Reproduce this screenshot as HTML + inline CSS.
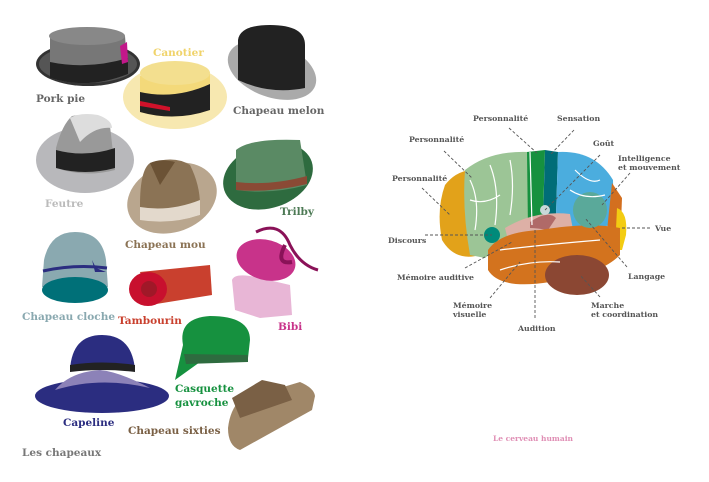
<!DOCTYPE html>
<html><head><meta charset="utf-8"><style>
html,body{margin:0;padding:0;background:#fff;}
svg{display:block;}
.h{font-family:"DejaVu Serif","Liberation Serif",serif;font-weight:bold;font-size:10.5px;}
.b{font-family:"DejaVu Serif","Liberation Serif",serif;font-weight:bold;font-size:7.8px;fill:#555;}
.d{stroke:#555;stroke-width:0.9;stroke-dasharray:3,2;fill:none;}
.w{stroke:#fff;stroke-width:1.2;fill:none;}
</style></head><body>
<svg width="709" height="482" viewBox="0 0 709 482" xmlns="http://www.w3.org/2000/svg">
<!-- Pork pie -->
<ellipse cx="88" cy="64" rx="52" ry="22" fill="#333"/>
<ellipse cx="88" cy="64" rx="49" ry="19" fill="#555"/>
<path d="M50 38 L50 78 Q88 90 128 74 L125 36 Z" fill="#777"/>
<ellipse cx="87" cy="36" rx="38" ry="9" fill="#888"/>
<path d="M50 62 Q88 70 128 58 L128 74 Q88 90 50 78 Z" fill="#222"/>
<path d="M120 46 L127 42 L128 62 L122 64 Z" fill="#c2188a"/>
<text class="h" x="36" y="102" fill="#666">Pork pie</text>
<!-- Canotier -->
<text class="h" x="153" y="56" fill="#f0d36a">Canotier</text>
<ellipse cx="175" cy="97" rx="52" ry="32" fill="#f7e8b0"/>
<path d="M140 76 L140 112 Q175 122 210 110 L210 74 Z" fill="#f3d97a"/>
<ellipse cx="175" cy="73" rx="35" ry="12" fill="#f3df8f"/>
<path d="M140 92 Q175 100 210 84 L210 110 Q175 122 140 112 Z" fill="#222"/>
<path d="M140 101 L170 107 L170 111 L140 106 Z" fill="#d0122a"/>
<!-- Chapeau melon -->
<ellipse cx="272" cy="70" rx="46" ry="27" fill="#aaa" transform="rotate(20 272 70)"/>
<path d="M238 40 Q240 25 270 25 Q305 25 305 45 L305 88 Q270 95 238 80 Z" fill="#222"/>
<text class="h" x="233" y="114" fill="#666">Chapeau melon</text>
<!-- Feutre -->
<ellipse cx="85" cy="160" rx="49" ry="33" fill="#b8b8bb"/>
<path d="M56 148 Q62 125 72 116 Q90 112 110 126 L115 170 Q85 178 56 168 Z" fill="#999"/>
<path d="M70 118 Q80 112 98 115 Q112 120 112 128 Q95 126 80 142 Z" fill="#ddd"/>
<path d="M56 150 Q85 158 115 148 L115 168 Q85 176 56 168 Z" fill="#222"/>
<text class="h" x="45" y="207" fill="#bbb">Feutre</text>
<!-- Chapeau mou -->
<ellipse cx="172" cy="198" rx="46" ry="34" fill="#b9a68e" transform="rotate(-20 172 198)"/>
<path d="M140 205 Q140 170 150 163 Q175 155 190 165 Q200 185 200 205 L200 215 Q170 225 140 218 Z" fill="#8b7355"/>
<path d="M150 163 Q160 158 175 162 L160 185 Z" fill="#6b5235"/>
<path d="M140 207 Q170 212 200 200 L200 215 Q170 225 140 220 Z" fill="#e3d9cc"/>
<text class="h" x="125" y="248" fill="#8b7355">Chapeau mou</text>
<!-- Trilby -->
<ellipse cx="268" cy="176" rx="46" ry="32" fill="#2e6b3f" transform="rotate(-18 268 176)"/>
<path d="M236 150 Q250 138 300 140 L307 185 Q270 195 236 190 Z" fill="#5a8a64"/>
<path d="M236 182 Q270 186 307 176 L307 184 Q270 193 236 190 Z" fill="#8a4a35"/>
<text class="h" x="280" y="215" fill="#4d7a55">Trilby</text>
<!-- Cloche -->
<path d="M42 287 L44 260 Q50 232 75 232 Q102 232 106 260 L108 287 Z" fill="#8aa9b0"/>
<ellipse cx="75" cy="290" rx="33" ry="13" fill="#007078"/>
<path d="M43 271 Q75 264 107 268" stroke="#2b2d80" stroke-width="3" fill="none"/>
<path d="M92 260 L96 268 L106 272 L95 272 Z" fill="#2b2d80"/>
<text class="h" x="22" y="320" fill="#8aa9b0">Chapeau cloche</text>
<!-- Tambourin -->
<path d="M140 272 L210 265 L212 295 L150 305 Z" fill="#c9402e"/>
<ellipse cx="148" cy="289" rx="19" ry="17" fill="#c8102e"/>
<circle cx="149" cy="289" r="8" fill="#a01828"/>
<text class="h" x="118" y="324" fill="#c9402e">Tambourin</text>
<!-- Bibi -->
<path d="M232 280 Q235 272 260 278 L290 285 L292 315 L260 318 L235 310 Z" fill="#e8b6d6"/>
<ellipse cx="266" cy="260" rx="30" ry="20" fill="#c8338a" transform="rotate(15 266 260)"/>
<path d="M256 232 Q280 220 290 245 Q300 265 318 270" stroke="#8a1258" stroke-width="3" fill="none"/>
<path d="M285 245 Q275 265 292 262" stroke="#8a1258" stroke-width="4" fill="none"/>
<text class="h" x="278" y="330" fill="#c8338a">Bibi</text>
<!-- Capeline -->
<ellipse cx="102" cy="396" rx="67" ry="17" fill="#2b2d80"/>
<path d="M55 390 Q100 376 150 388 Q120 372 100 370 Q70 372 55 390 Z" fill="#8c82b8"/>
<path d="M70 370 Q72 335 102 335 Q132 335 135 370 Z" fill="#2b2d80"/>
<path d="M70 365 Q102 360 135 365 L135 372 Q102 368 70 372 Z" fill="#222"/>
<text class="h" x="63" y="426" fill="#2b2d80">Capeline</text>
<!-- Casquette -->
<path d="M183 345 Q178 318 210 316 Q250 316 250 340 L248 358 L200 362 L175 380 Z" fill="#16913f"/>
<path d="M184 354 L248 355 L248 362 L186 364 Z" fill="#2e6b3f"/>
<text class="h" x="175" y="392" fill="#16913f">Casquette</text>
<text class="h" x="175" y="406" fill="#16913f">gavroche</text>
<!-- Chapeau sixties -->
<path d="M228 428 Q230 410 240 400 L300 382 Q314 388 315 396 L312 410 L240 450 Q228 446 228 428 Z" fill="#a08768"/>
<path d="M232 398 L262 380 L285 385 L292 400 L240 418 Z" fill="#7a6045"/>
<text class="h" x="128" y="434" fill="#7a6045">Chapeau sixties</text>
<text class="h" x="22" y="456" fill="#777">Les chapeaux</text>

<!-- Brain -->
<path d="M445 185 Q455 172 470 170 L480 255 Q455 262 442 240 Q436 210 445 185 Z" fill="#e2a21a"/>
<path d="M465 170 Q490 150 530 152 L532 225 L500 245 L485 258 L470 255 Q462 210 465 170 Z" fill="#9cc596"/>
<path d="M527 152 L545 150 L543 218 L528 230 Z" fill="#16913f"/>
<path d="M545 150 L558 152 L556 215 L543 222 Z" fill="#006d78"/>
<path d="M558 152 Q595 150 613 180 L614 225 L560 232 L556 215 Z" fill="#4badde"/>
<path d="M612 183 L622 198 L620 250 L605 250 Z" fill="#d36f1f"/>
<path d="M617 208 Q628 212 626 235 L622 250 L615 250 Z" fill="#f3cc12"/>
<path d="M505 228 Q535 210 570 214 L575 240 L510 248 Z" fill="#ddb0a6"/>
<path d="M530 222 Q548 210 556 218 L548 230 Q536 228 530 228 Z" fill="#b06a68"/>
<path d="M488 250 Q500 232 540 230 Q590 222 620 228 L620 255 Q600 275 550 282 Q500 290 488 270 Z" fill="#d3731e"/>
<ellipse cx="577" cy="275" rx="32" ry="20" fill="#8b4733"/>
<circle cx="492" cy="235" r="8" fill="#008a7a"/>
<ellipse cx="590" cy="210" rx="17" ry="18" fill="#5aa99a"/>
<circle cx="545" cy="210" r="5" fill="#c8d8d8"/>
<path class="w" d="M470 180 Q480 200 475 230 M490 165 Q500 190 495 225 M510 160 Q515 185 510 215 M470 200 Q485 205 500 195 M500 270 Q530 260 560 262 M500 250 Q540 245 600 240 M575 170 Q590 185 600 180 M570 190 Q585 200 605 195 M530 152 L532 225"/>
<g class="d">
<line x1="509" y1="128" x2="537" y2="153"/>
<line x1="574" y1="130" x2="550" y2="155"/>
<line x1="444" y1="151" x2="472" y2="178"/>
<line x1="600" y1="155" x2="545" y2="210"/>
<line x1="630" y1="173" x2="602" y2="205"/>
<line x1="422" y1="188" x2="450" y2="215"/>
<line x1="622" y1="228" x2="652" y2="228"/>
<line x1="425" y1="235" x2="492" y2="235"/>
<line x1="465" y1="268" x2="512" y2="242"/>
<line x1="627" y1="267" x2="585" y2="218"/>
<line x1="490" y1="298" x2="520" y2="262"/>
<line x1="535" y1="230" x2="535" y2="318"/>
<line x1="600" y1="297" x2="580" y2="275"/>
</g>
<text class="b" x="473" y="121">Personnalité</text>
<text class="b" x="557" y="121">Sensation</text>
<text class="b" x="409" y="142">Personnalité</text>
<text class="b" x="593" y="146">Goût</text>
<text class="b" x="618" y="161">Intelligence</text>
<text class="b" x="618" y="170">et mouvement</text>
<text class="b" x="392" y="181">Personnalité</text>
<text class="b" x="655" y="231">Vue</text>
<text class="b" x="388" y="243">Discours</text>
<text class="b" x="397" y="280">Mémoire auditive</text>
<text class="b" x="628" y="279">Langage</text>
<text class="b" x="453" y="308">Mémoire</text>
<text class="b" x="453" y="317">visuelle</text>
<text class="b" x="591" y="308">Marche</text>
<text class="b" x="591" y="317">et coordination</text>
<text class="b" x="518" y="331">Audition</text>
<text x="493" y="441" font-family="DejaVu Serif,serif" font-size="7.5" font-weight="bold" fill="#e08fb5">Le cerveau humain</text>
</svg>
</body></html>
